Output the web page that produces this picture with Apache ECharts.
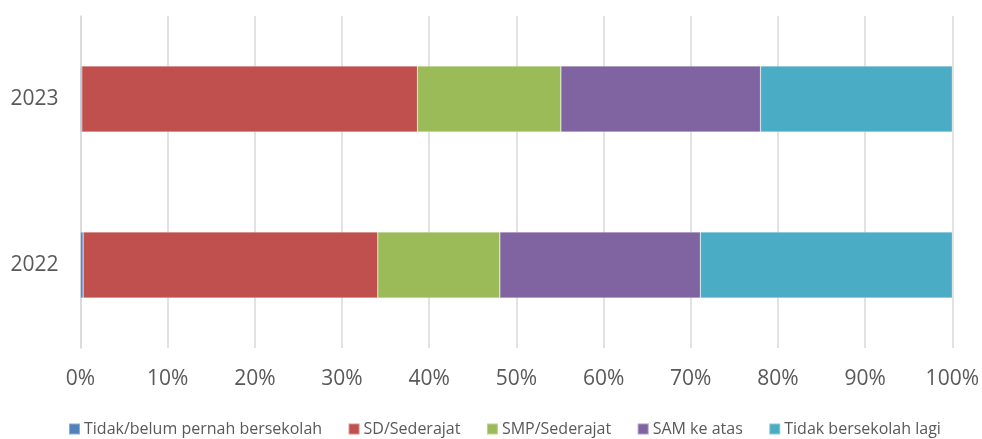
<!DOCTYPE html>
<html>
<head>
<meta charset="utf-8">
<script src="https://cdn.jsdelivr.net/npm/echarts@6/dist/echarts.min.js"></script>
<style>
  html, body { margin: 0; padding: 0; background: #fff; }
  #chart { width: 982px; height: 439px; }
</style>
</head>
<body>
<div id="chart"></div>
<script>
// Share of each education status per year (percent, stacked to 100)
const years = ['2022', '2023'];
const seriesNames = [
  'Tidak/belum pernah bersekolah',
  'SD/Sederajat',
  'SMP/Sederajat',
  'SAM ke atas',
  'Tidak bersekolah lagi'
];
const tidakBelum = [0.3, 0.15];
const sdSederajat = [33.8, 38.5];
const smpSederajat = [14.0, 16.45];
const samKeAtas = [23.0, 22.9];
const tidakLagi = [28.9, 22.0];
const xTicks = ['0%', '10%', '20%', '30%', '40%', '50%', '60%', '70%', '80%', '90%', '100%'];

const colors = ['#4F81BD', '#C0504D', '#9BBB59', '#8064A2', '#4BACC6'];
const values = [tidakBelum, sdSederajat, smpSederajat, samKeAtas, tidakLagi];
const font = '"Open Sans", "Noto Sans", sans-serif';

const chart = echarts.init(document.getElementById('chart'), null, { renderer: 'canvas' });
chart.setOption({
  animation: false,
  color: colors,
  grid: { left: 80.5, right: 28, top: 16, bottom: 91, containLabel: false },
  legend: {
    data: seriesNames,
    left: 68,
    top: 421,
    padding: 0,
    itemWidth: 11,
    itemHeight: 11,
    itemGap: 25.5,
    icon: 'rect',
    textStyle: { fontFamily: font, fontSize: 16, color: '#595959', padding: [0, 0, 0, -1] }
  },
  xAxis: {
    type: 'value',
    min: 0,
    max: 100,
    interval: 10,
    axisLine: { show: false },
    axisTick: { show: false },
    splitLine: { show: true, lineStyle: { color: '#D9D9D9', width: 1.5 } },
    axisLabel: {
      margin: 21,
      fontFamily: font,
      fontSize: 21,
      color: '#595959',
      formatter: (v) => xTicks[Math.round(v / 10)]
    }
  },
  yAxis: {
    type: 'category',
    data: years,
    axisLine: { show: true, lineStyle: { color: '#D9D9D9', width: 1.5 } },
    axisTick: { show: false },
    axisLabel: { margin: 22, fontFamily: font, fontSize: 21, color: '#595959', padding: [4, 0, 0, 0] }
  },
  series: seriesNames.map((name, i) => ({
    name: name,
    type: 'bar',
    stack: 'total',
    barWidth: 66,
    data: values[i],
    itemStyle: { color: colors[i], borderColor: 'rgba(255,255,255,0.35)', borderWidth: 0.6 }
  }))
});
</script>
</body>
</html>
